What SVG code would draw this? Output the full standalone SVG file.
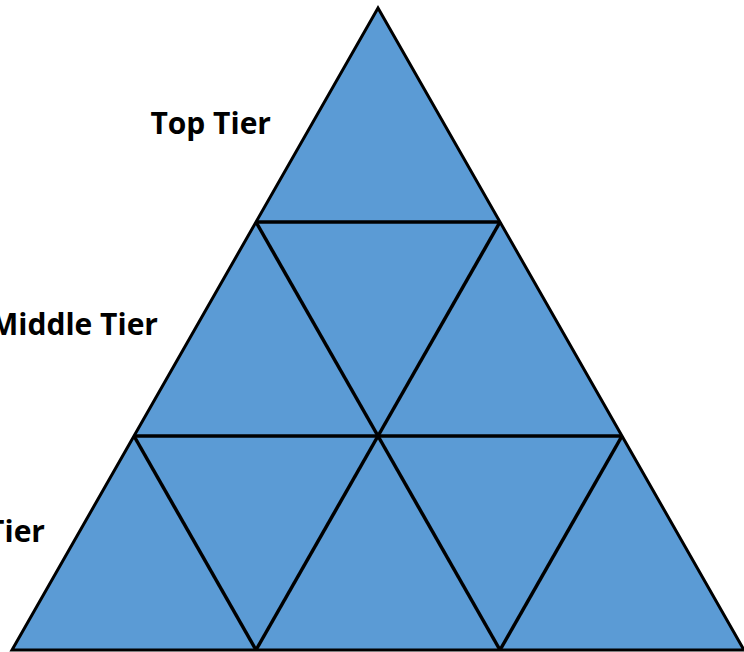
<svg xmlns="http://www.w3.org/2000/svg" width="744" height="652" viewBox="0 0 744 652">
<style>
.t{fill:#5B9BD5;stroke:#000;stroke-width:3;stroke-linejoin:miter}
.l{stroke:#000;stroke-width:3.5;fill:none}
.lab{font-family:"Open Sans","Liberation Sans",sans-serif;font-weight:bold;font-size:30px;fill:#000;text-anchor:end}
</style>
<rect width="744" height="652" fill="#fff"/>
<g id="pyramid">
<polygon class="t" points="378,8 744,650 12,650"/>
</g>
<g id="connectors">
<line class="l" x1="256" y1="222" x2="500" y2="222"/>
<line class="l" x1="134" y1="436" x2="622" y2="436"/>
<line class="l" x1="256" y1="222" x2="378" y2="436"/>
<line class="l" x1="500" y1="222" x2="378" y2="436"/>
<line class="l" x1="134" y1="436" x2="256" y2="650"/>
<line class="l" x1="378" y1="436" x2="256" y2="650"/>
<line class="l" x1="378" y1="436" x2="500" y2="650"/>
<line class="l" x1="622" y1="436" x2="500" y2="650"/>
</g>
<g id="top-label"><text class="lab" x="271" y="134">Top Tier</text></g>
<g id="middle-label"><text class="lab" x="158" y="335">Middle Tier</text></g>
<g id="bottom-label"><text class="lab" x="45" y="542">Tier</text></g>
</svg>
